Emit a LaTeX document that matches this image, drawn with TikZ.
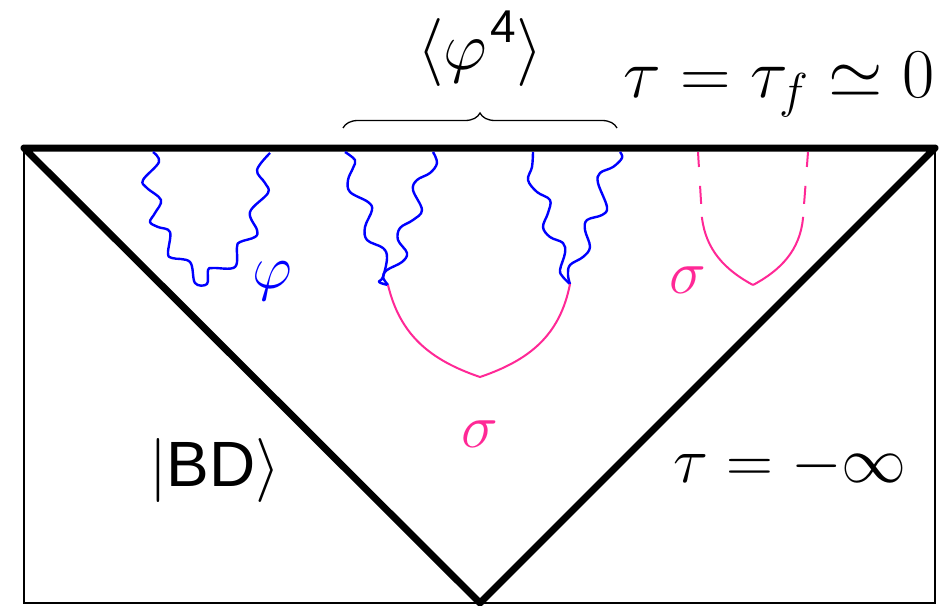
\RequirePackage{fix-cm}
\documentclass[tikz,border=0pt]{standalone}
\usepackage{fontspec}
\newfontfamily\hv{Liberation Sans}
\usetikzlibrary{decorations.pathreplacing}
\definecolor{sigpink}{RGB}{255,40,150}
\definecolor{phiblue}{RGB}{0,0,255}
\begin{document}
\begin{tikzpicture}[x=1pt,y=-1pt,
  heavy/.style={line width=7pt, line join=round},
  frame/.style={line width=1.6pt},
  photon/.style={phiblue, line width=2.4pt, line join=round},
  sigline/.style={sigpink, line width=2pt},
  sigdash/.style={sigpink, line width=2pt, dash pattern=on 15pt off 19pt on 18pt off 13pt on 400pt},
  lbl/.style={inner sep=0pt}]
\useasboundingbox (0,0) rectangle (947,605);
\fill[white] (0,0) rectangle (947,605);

% corners
\coordinate (TL) at (24,148);
\coordinate (TR) at (935,148);
\coordinate (BL) at (24,603);
\coordinate (BR) at (935,603);
\coordinate (A) at (480,603);

% thin frame
\draw[frame] (TL) -- (BL) -- (BR) -- (TR);
% thick triangle
\draw[heavy] (TL) -- (TR) -- (A) -- cycle;

% left photon U
\draw[photon] plot[smooth, tension=0.6] coordinates {
(153,152) (159,162) (143,180) (147,188) (161,200) (155,213) (150,222) (158,227)
(170,232) (168,253) (172,258) (190,262) (195,283) (207,284) (208,270) (213,268)
(235,267) (237,247) (240,242) (255,237) (257,230) (250,212) (268,193) (265,183)
(257,170) (270,153)};

% middle photons
\coordinate (J1) at (388,285);
\coordinate (J2) at (570,284);
\coordinate (B1) at (480,377);
\draw[photon] plot[smooth, tension=0.6] coordinates {
(345,152) (355,160) (353,168) (348,180) (350,192) (368,202) (372,210) (365,227)
(367,240) (383,248) (387,258) (383,277) (379,282) (388,285)};
\draw[photon] plot[smooth, tension=0.6] coordinates {
(433,152) (437,163) (430,173) (417,180) (413,190) (422,210) (413,220) (400,228)
(398,240) (407,253) (402,262) (387,270) (383,277) (388,285)};
\draw[photon] plot[smooth, tension=0.6] coordinates {
(533,152) (532,167) (528,180) (537,192) (550,200) (548,213) (543,227) (550,237)
(563,243) (565,253) (560,270) (563,277) (570,284)};
\draw[photon] plot[smooth, tension=0.6] coordinates {
(620,152) (622,158) (613,167) (600,173) (598,183) (607,207) (602,215) (587,220)
(585,230) (590,247) (583,257) (570,265) (568,275) (570,284)};

% middle sigma propagator
\draw[sigline] (J1) .. controls (400,335) and (430,360) .. (B1)
  .. controls (530,360) and (560,335) .. (J2);

% right sigma (dashed top part)
\coordinate (B2) at (753,285);
\draw[sigdash] (698,152) -- (702,218) .. controls (706,250) and (725,270) .. (B2);
\draw[sigdash] (808,152) -- (803,218) .. controls (800,250) and (781,270) .. (B2);

% brace
\coordinate (br1) at (343,128);
\coordinate (br2) at (617,128);
\draw[line width=1.3pt, decorate, decoration={brace, amplitude=15pt}] (br1) -- (br2);

% labels
\node[lbl, anchor=base, font=\fontsize{68}{80}\selectfont] (phi4) at (480,69)
  {$\langle\varphi\mkern1mu\hbox{\raisebox{27pt}{\hv\fontsize{46}{50}\selectfont 4}}\rangle$};
\node[lbl, anchor=base east, font=\fontsize{70}{80}\selectfont] (tauf) at (935,97)
  {$\tau=\tau_f\simeq0$};
\node[lbl, anchor=base, font=\fontsize{64}{70}\selectfont] (bd) at (215,486)
  {$|$\hv BD$\rangle$};
\node[lbl, anchor=base east, font=\fontsize{65}{70}\selectfont] (tinf) at (907,482)
  {$\tau=-\infty$};
\node[lbl, anchor=base, text=sigpink, font=\fontsize{62}{70}\selectfont] (sig1) at (480,447) {$\sigma$};
\node[lbl, anchor=base, text=sigpink, font=\fontsize{62}{70}\selectfont] (sig2) at (688,293) {$\sigma$};
\node[lbl, anchor=base, text=phiblue, font=\fontsize{62}{70}\selectfont] (phil) at (272,288) {$\varphi$};
\end{tikzpicture}
\end{document}
